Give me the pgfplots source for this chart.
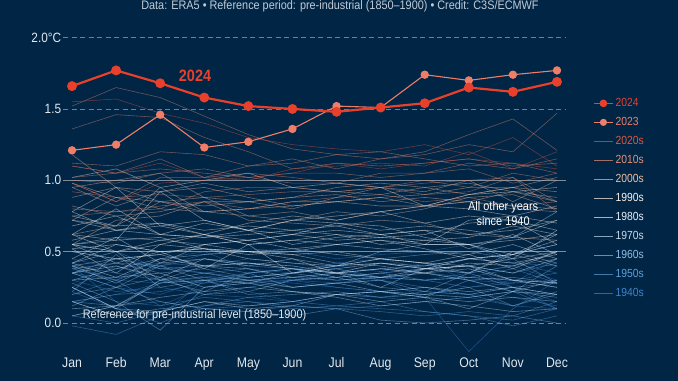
\documentclass[border=0pt]{standalone}
\usepackage{pgfplots}
\pgfplotsset{compat=1.18}
\usepackage{pgfplotstable}
\usepackage{fontspec}
\setmainfont{Liberation Sans}[FakeStretch=0.88]
\definecolor{bg}{RGB}{0,37,69}
\definecolor{c24}{RGB}{232,64,42}
\definecolor{c23}{RGB}{240,125,104}
\definecolor{c20}{RGB}{222,86,64}
\definecolor{c10}{RGB}{232,143,117}
\definecolor{c00}{RGB}{237,190,165}
\definecolor{c90}{RGB}{250,240,232}
\definecolor{c80}{RGB}{232,238,245}
\definecolor{c70}{RGB}{197,218,238}
\definecolor{c60}{RGB}{143,188,230}
\definecolor{c50}{RGB}{94,158,217}
\definecolor{c40}{RGB}{62,132,204}
\definecolor{gridc}{RGB}{160,168,178}
\definecolor{tickc}{RGB}{228,232,238}

\pgfplotstableread{
year Jan Feb Mar Apr May Jun Jul Aug Sep Oct Nov Dec
y1940 0.22 0.10 0.05 0.30 0.35 0.38 0.40 0.36 0.42 0.30 0.28 0.45
y1941 0.45 0.38 0.42 0.40 0.45 0.42 0.38 0.30 0.18 -0.20 0.10 0.30
y1942 0.35 0.30 0.28 0.33 0.30 0.28 0.25 0.22 0.20 0.25 0.30 0.28
y1943 0.25 0.40 0.30 0.28 0.30 0.32 0.35 0.30 0.38 0.45 0.42 0.40
y1944 0.50 0.45 0.40 0.48 0.52 0.50 0.45 0.48 0.50 0.55 0.42 0.35
y1945 0.40 0.30 0.45 0.50 0.38 0.35 0.42 0.45 0.38 0.40 0.25 0.15
y1946 0.35 0.25 0.20 0.30 0.22 0.15 0.20 0.18 0.22 0.20 0.25 0.10
y1947 0.15 0.20 0.28 0.32 0.30 0.30 0.28 0.32 0.30 0.35 0.40 0.30
y1948 0.40 0.15 0.12 0.25 0.28 0.30 0.25 0.22 0.25 0.20 0.18 0.12
y1949 0.30 0.22 0.25 0.20 0.18 0.15 0.20 0.18 0.15 0.18 0.12 0.10
y1950 0.05 0.12 0.15 0.10 0.12 0.15 0.12 0.10 0.08 0.05 0.02 0.10
y1951 0.05 0.00 0.08 0.20 0.25 0.30 0.32 0.35 0.38 0.40 0.35 0.42
y1952 0.40 0.35 0.30 0.32 0.28 0.25 0.28 0.30 0.25 0.20 0.12 0.20
y1953 0.35 0.42 0.40 0.45 0.40 0.38 0.35 0.38 0.35 0.32 0.30 0.35
y1954 0.20 0.30 0.12 0.18 0.15 0.12 0.10 0.12 0.15 0.18 0.22 0.10
y1955 0.25 0.10 0.00 0.12 0.15 0.10 0.12 0.15 0.08 0.05 -0.02 0.05
y1956 -0.02 -0.08 0.05 0.10 0.08 0.12 0.10 0.08 0.05 0.08 0.05 0.15
y1957 0.15 0.20 0.22 0.28 0.35 0.38 0.32 0.35 0.38 0.35 0.40 0.45
y1958 0.55 0.50 0.38 0.35 0.38 0.30 0.35 0.32 0.30 0.32 0.38 0.28
y1959 0.38 0.30 0.40 0.35 0.32 0.35 0.38 0.32 0.30 0.25 0.28 0.30
y1960 0.28 0.15 -0.05 0.25 0.30 0.32 0.30 0.32 0.35 0.30 0.22 0.40
y1961 0.35 0.45 0.38 0.40 0.35 0.38 0.32 0.35 0.30 0.32 0.30 0.25
y1962 0.38 0.42 0.35 0.38 0.32 0.35 0.30 0.32 0.35 0.30 0.32 0.28
y1963 0.22 0.48 0.25 0.30 0.32 0.35 0.40 0.45 0.48 0.50 0.45 0.28
y1964 0.35 0.25 0.15 0.10 0.08 0.05 0.10 0.02 0.00 0.02 0.05 0.00
y1965 0.15 0.05 0.10 0.12 0.18 0.20 0.22 0.18 0.20 0.25 0.12 0.22
y1966 0.20 0.25 0.32 0.20 0.22 0.30 0.32 0.25 0.22 0.20 0.25 0.20
y1967 0.25 0.10 0.30 0.22 0.35 0.25 0.28 0.30 0.22 0.35 0.25 0.28
y1968 0.12 0.25 0.40 0.30 0.20 0.22 0.20 0.22 0.18 0.30 0.22 0.18
y1969 0.15 0.12 0.30 0.40 0.42 0.38 0.35 0.38 0.40 0.45 0.48 0.55
y1970 0.42 0.50 0.30 0.35 0.30 0.25 0.28 0.22 0.25 0.22 0.25 0.20
y1971 0.25 0.10 0.08 0.15 0.12 0.15 0.20 0.22 0.20 0.18 0.22 0.20
y1972 0.05 0.12 0.28 0.30 0.28 0.35 0.38 0.42 0.40 0.45 0.48 0.55
y1973 0.55 0.60 0.58 0.55 0.50 0.48 0.42 0.40 0.35 0.38 0.30 0.25
y1974 0.10 0.12 0.18 0.22 0.25 0.22 0.20 0.22 0.18 0.15 0.18 0.15
y1975 0.30 0.32 0.35 0.25 0.28 0.22 0.18 0.12 0.15 0.12 0.08 0.10
y1976 0.15 0.05 0.08 0.15 0.10 0.12 0.20 0.15 0.18 0.10 0.22 0.30
y1977 0.30 0.38 0.45 0.48 0.50 0.52 0.48 0.45 0.42 0.35 0.48 0.40
y1978 0.40 0.45 0.48 0.40 0.38 0.32 0.35 0.25 0.38 0.35 0.50 0.42
y1979 0.40 0.28 0.42 0.45 0.40 0.45 0.40 0.50 0.55 0.55 0.60 0.78
y1980 0.50 0.45 0.48 0.55 0.58 0.52 0.55 0.52 0.50 0.48 0.55 0.45
y1981 0.75 0.68 0.70 0.62 0.55 0.58 0.55 0.58 0.52 0.45 0.48 0.62
y1982 0.35 0.40 0.32 0.45 0.42 0.40 0.35 0.32 0.38 0.40 0.45 0.65
y1983 0.72 0.65 0.62 0.60 0.65 0.55 0.60 0.62 0.65 0.52 0.62 0.48
y1984 0.55 0.42 0.50 0.38 0.55 0.35 0.40 0.45 0.42 0.40 0.30 0.28
y1985 0.42 0.32 0.45 0.40 0.42 0.38 0.35 0.42 0.38 0.40 0.35 0.45
y1986 0.52 0.55 0.50 0.52 0.45 0.42 0.40 0.42 0.38 0.45 0.42 0.48
y1987 0.45 0.60 0.42 0.55 0.58 0.62 0.70 0.65 0.68 0.65 0.60 0.72
y1988 0.78 0.65 0.70 0.65 0.68 0.65 0.62 0.60 0.58 0.55 0.45 0.50
y1989 0.42 0.55 0.50 0.52 0.48 0.50 0.55 0.58 0.55 0.55 0.48 0.58
y1990 0.55 0.58 0.92 0.72 0.65 0.62 0.65 0.62 0.55 0.72 0.75 0.70
y1991 0.68 0.75 0.62 0.70 0.65 0.72 0.70 0.68 0.60 0.55 0.58 0.62
y1992 0.62 0.58 0.60 0.52 0.50 0.45 0.35 0.38 0.35 0.42 0.40 0.50
y1993 0.55 0.50 0.55 0.52 0.50 0.48 0.50 0.45 0.42 0.48 0.38 0.50
y1994 0.52 0.35 0.55 0.62 0.58 0.62 0.58 0.60 0.62 0.70 0.72 0.65
y1995 0.78 0.95 0.68 0.72 0.65 0.72 0.75 0.78 0.70 0.75 0.72 0.55
y1996 0.62 0.50 0.58 0.62 0.55 0.58 0.62 0.55 0.58 0.60 0.68 0.62
y1997 0.58 0.65 0.68 0.62 0.70 0.75 0.72 0.78 0.82 0.90 0.92 0.95
y1998 1.02 1.08 0.95 1.00 1.05 0.95 0.98 0.95 0.82 0.80 0.75 0.82
y1999 0.62 0.80 0.62 0.60 0.62 0.65 0.68 0.62 0.65 0.62 0.65 0.72
y2000 0.55 0.72 0.75 0.85 0.72 0.70 0.68 0.72 0.70 0.62 0.60 0.58
y2001 0.72 0.68 0.85 0.78 0.80 0.82 0.85 0.88 0.82 0.85 0.92 0.85
y2002 0.95 1.00 1.05 0.88 0.85 0.88 0.90 0.85 0.88 0.85 0.82 0.80
y2003 0.98 0.88 0.85 0.82 0.85 0.80 0.88 0.95 0.92 1.00 0.85 1.00
y2004 0.88 0.95 0.85 0.88 0.75 0.78 0.72 0.78 0.82 0.90 0.95 0.85
y2005 0.95 0.82 0.92 0.98 0.92 0.95 0.92 0.90 0.95 0.98 0.92 0.88
y2006 0.72 0.88 0.80 0.78 0.80 0.85 0.85 0.88 0.90 0.95 0.95 1.02
y2007 1.18 0.95 0.92 0.95 0.88 0.82 0.85 0.82 0.82 0.85 0.80 0.78
y2008 0.62 0.68 0.95 0.78 0.75 0.72 0.78 0.75 0.80 0.88 0.90 0.80
y2009 0.82 0.75 0.78 0.85 0.85 0.88 0.95 0.98 0.95 0.90 0.95 0.92
y2010 1.02 1.05 1.08 1.05 1.02 0.98 0.98 0.95 0.90 0.92 1.02 0.78
y2011 0.80 0.78 0.82 0.85 0.80 0.85 0.88 0.90 0.85 0.88 0.82 0.85
y2012 0.75 0.78 0.80 0.92 0.95 0.95 0.92 0.95 0.98 1.00 1.02 0.85
y2013 0.92 0.88 0.90 0.88 0.90 0.92 0.92 0.95 1.00 0.95 1.05 1.00
y2014 0.98 0.85 1.02 1.02 1.05 1.02 0.98 1.05 1.05 1.08 0.98 1.05
y2015 1.10 1.05 1.15 1.02 1.10 1.15 1.08 1.15 1.20 1.32 1.43 1.21
y2016 1.52 1.65 1.58 1.45 1.32 1.22 1.18 1.20 1.15 1.10 1.12 1.05
y2017 1.36 1.46 1.44 1.30 1.20 1.08 1.12 1.10 1.12 1.15 1.10 1.12
y2018 1.00 0.98 1.05 1.08 1.02 1.05 1.05 1.02 1.05 1.12 1.08 1.15
y2019 1.12 1.10 1.20 1.18 1.10 1.12 1.18 1.15 1.18 1.25 1.20 1.47
y2020 1.55 1.57 1.47 1.40 1.30 1.25 1.22 1.20 1.25 1.18 1.30 1.10
y2021 0.98 0.85 0.98 1.00 1.02 1.05 1.12 1.08 1.12 1.15 1.12 1.08
y2022 1.10 1.05 1.12 1.02 1.00 1.08 1.10 1.12 1.10 1.20 1.08 1.20
y2023 1.21 1.25 1.46 1.23 1.27 1.36 1.52 1.51 1.74 1.70 1.74 1.77
y2024 1.66 1.77 1.68 1.58 1.52 1.50 1.48 1.51 1.54 1.65 1.62 1.69
}\traw
\pgfplotstabletranspose[colnames from=year]\tdata\traw

\begin{document}
\begin{tikzpicture}
\path[use as bounding box] (0bp,0bp) rectangle (678bp,381bp);
\fill[bg] (0bp,0bp) rectangle (678bp,381bp);
\node[anchor=base, text=tickc!85!bg, font=\fontsize{12.4}{14}\selectfont, inner sep=0pt] at (340bp,371.5bp)
  {Data: ERA5 \textbullet{} Reference period: pre-industrial (1850–1900) \textbullet{} Credit: C3S/ECMWF};
\begin{axis}[
  at={(63.2bp,26.6bp)}, anchor=south west,
  scale only axis, width=502.6bp, height=338.2bp,
  xmin=-0.2, xmax=11.2, ymin=-0.22, ymax=2.15,
  clip=false,
  axis line style={draw=none}, major tick length=0pt,
  xtick={0,...,11},
  xticklabels={Jan,Feb,Mar,Apr,May,Jun,Jul,Aug,Sep,Oct,Nov,Dec},
  ytick={0.5,1}, yticklabels={0.5,1.0},
  extra y ticks={0,1.5,2}, extra y tick labels={0.0,1.5,2.0°C},
  ymajorgrids,
  major grid style={solid, draw=gridc!80!white, line width=0.7bp, opacity=0.7},
  extra y tick style={grid=major, major grid style={dash pattern=on 5bp off 3.5bp, draw=gridc, line width=0.8bp}},
  tick label style={font=\fontsize{13.5}{15}\selectfont, text=tickc},
  xticklabel style={anchor=base, yshift=-12.6bp, font=\fontsize{14}{15}\selectfont},
  yticklabel style={anchor=east, xshift=1.5bp},
  every axis plot/.append style={forget plot},
  bgl/.style={line width=0.6bp, opacity=0.45},
  legend cell align=left,
  legend image code/.code={\draw[mark repeat=2, mark phase=2, #1] plot coordinates {(0bp,0bp) (9.5bp,0bp) (19bp,0bp)};},
  legend style={at={(1.048,0.769)}, anchor=north west, draw=none, fill=none,
    font=\fontsize{11.8}{12}\selectfont, row sep=5.3bp},
]
\pgfplotsinvokeforeach{1940,...,1949}{\addplot[bgl, c40] table[x expr=\coordindex, y=y#1]{\tdata};}
\pgfplotsinvokeforeach{1950,...,1959}{\addplot[bgl, c50] table[x expr=\coordindex, y=y#1]{\tdata};}
\pgfplotsinvokeforeach{1960,...,1969}{\addplot[bgl, c60] table[x expr=\coordindex, y=y#1]{\tdata};}
\pgfplotsinvokeforeach{1970,...,1979}{\addplot[bgl, c70] table[x expr=\coordindex, y=y#1]{\tdata};}
\pgfplotsinvokeforeach{1980,...,1989}{\addplot[bgl, c80] table[x expr=\coordindex, y=y#1]{\tdata};}
\pgfplotsinvokeforeach{1990,...,1999}{\addplot[bgl, c90] table[x expr=\coordindex, y=y#1]{\tdata};}
\pgfplotsinvokeforeach{2000,...,2009}{\addplot[bgl, c00] table[x expr=\coordindex, y=y#1]{\tdata};}
\pgfplotsinvokeforeach{2010,...,2019}{\addplot[bgl, c10] table[x expr=\coordindex, y=y#1]{\tdata};}
\pgfplotsinvokeforeach{2020,...,2022}{\addplot[bgl, c20] table[x expr=\coordindex, y=y#1]{\tdata};}
\addplot[c23, line width=1.1bp, mark=*, mark size=3.6bp, mark options={draw=c23, fill=c23}] table[x expr=\coordindex, y=y2023]{\tdata};
\addplot[c24, line width=2.2bp, mark=*, mark size=3.8bp, mark options={draw=c24, fill=c24}] table[x expr=\coordindex, y=y2024]{\tdata};

\addlegendimage{c24, line width=1.6bp, mark=*, mark size=3bp}
\addlegendentry{\textcolor{c24}{2024}}
\addlegendimage{c23, line width=1.1bp, mark=*, mark size=3bp}
\addlegendentry{\textcolor{c23}{2023}}
\addlegendimage{c20, line width=0.7bp, opacity=0.7}
\addlegendentry{\textcolor{c20}{2020s}}
\addlegendimage{c10, line width=0.7bp, opacity=0.7}
\addlegendentry{\textcolor{c10}{2010s}}
\addlegendimage{c00, line width=0.7bp, opacity=0.7}
\addlegendentry{\textcolor{c00}{2000s}}
\addlegendimage{c90, line width=0.7bp, opacity=0.7}
\addlegendentry{\textcolor{c90}{1990s}}
\addlegendimage{c80, line width=0.7bp, opacity=0.7}
\addlegendentry{\textcolor{c80}{1980s}}
\addlegendimage{c70, line width=0.7bp, opacity=0.7}
\addlegendentry{\textcolor{c70}{1970s}}
\addlegendimage{c60, line width=0.7bp, opacity=0.7}
\addlegendentry{\textcolor{c60}{1960s}}
\addlegendimage{c50, line width=0.7bp, opacity=0.7}
\addlegendentry{\textcolor{c50}{1950s}}
\addlegendimage{c40, line width=0.7bp, opacity=0.7}
\addlegendentry{\textcolor{c40}{1940s}}

\node[text=c24, font=\bfseries\fontsize{16.5}{17}\selectfont] at (axis cs:2.79,1.73) {2024};
\node[text=white, font=\fontsize{12.5}{15}\selectfont, align=center] at (axis cs:9.78,0.77) {All other years\\since 1940};
\node[text=tickc, font=\fontsize{12.5}{14}\selectfont, anchor=west, inner sep=0pt] at (axis cs:0.24,0.056) {Reference for pre-industrial level (1850–1900)};
\end{axis}
\end{tikzpicture}
\end{document}
